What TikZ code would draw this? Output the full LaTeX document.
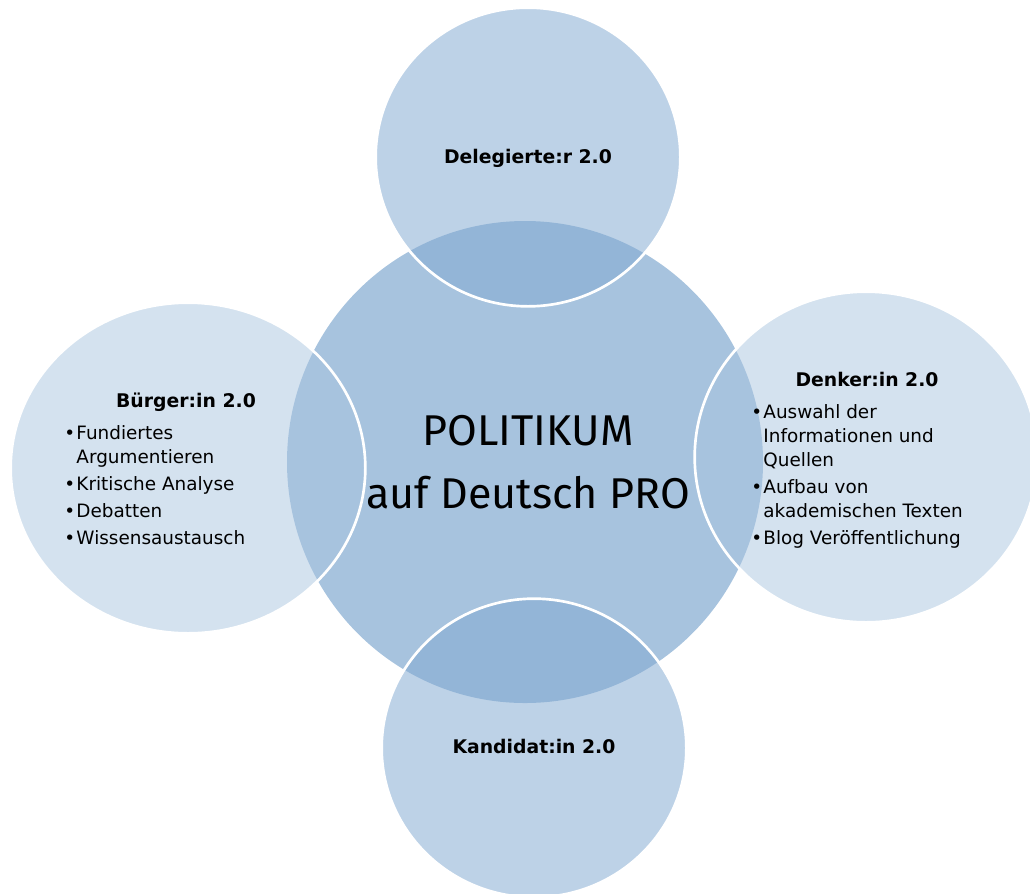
\documentclass[tikz,border=0pt]{standalone}
\usepackage{fontspec}
\setmainfont{DejaVu Sans}
\newfontfamily\hubfont{Fira Sans}
\usetikzlibrary{shapes.geometric}
\definecolor{hubblue}{RGB}{167,195,222}
\definecolor{spokeblue}{RGB}{129,169,209}

\begin{document}
\begin{tikzpicture}[x=0.75pt, y=-0.75pt,
  hub/.style = {ellipse, fill=hubblue, inner sep=0pt},
  spoke/.style = {ellipse, draw=white, line width=2pt, inner sep=0pt},
  mainspoke/.style = {spoke, fill=spokeblue, fill opacity=0.52, minimum width=228.5pt, minimum height=224pt},
  sidespoke/.style = {spoke, fill=hubblue, fill opacity=0.49, minimum height=248pt},
  title/.style = {anchor=base, font=\fontsize{14.1}{17}\selectfont\bfseries},
  hubtext/.style = {anchor=base, inner sep=0pt, font=\hubfont\fontsize{32.3}{38}\selectfont},
  points/.style = {anchor=base west, inner sep=0pt, font=\fontsize{13.8}{18}\selectfont}]
\useasboundingbox (0,0) rectangle (1030,893);
\clip (0,0) rectangle (1030,893);
\node[hub, minimum width=357pt, minimum height=361.5pt] (hub) at (525,462) {};
\node[mainspoke] (top) at (528,157) {};
\node[mainspoke] (bottom) at (534,748) {};
\node[sidespoke, minimum width=266pt] (left) at (188,468) {};
\node[sidespoke, minimum width=257pt] (right) at (866,457) {};
\node[hubtext] (politikum) at (528,445) {POLITIKUM};
\node[hubtext] (deutsch) at (528,508) {auf Deutsch PRO};
\node[title] (delegierte) at (528,163) {Delegierte:r 2.0};
\node[title] (kandidat) at (534,753) {Kandidat:in 2.0};
\node[title] (buerger) at (186,407) {Bürger:in 2.0};
\node[title] (denker) at (867,386) {Denker:in 2.0};
\node[points] (buergerlist) at (64,439) {\begin{tabular}[t]{@{}l@{\hspace{1pt}}l@{}}
  \textbullet & Fundiertes\\
  & Argumentieren\\[2.25pt]
  \textbullet & Kritische Analyse\\[2.25pt]
  \textbullet & Debatten\\[2.25pt]
  \textbullet & Wissensaustausch
\end{tabular}};
\node[points] (denkerlist) at (751,418) {\begin{tabular}[t]{@{}l@{\hspace{1pt}}l@{}}
  \textbullet & Auswahl der\\
  & Informationen und\\
  & Quellen\\[2.25pt]
  \textbullet & Aufbau von\\
  & akademischen Texten\\[2.25pt]
  \textbullet & Blog Veröffentlichung
\end{tabular}};
\end{tikzpicture}
\end{document}
